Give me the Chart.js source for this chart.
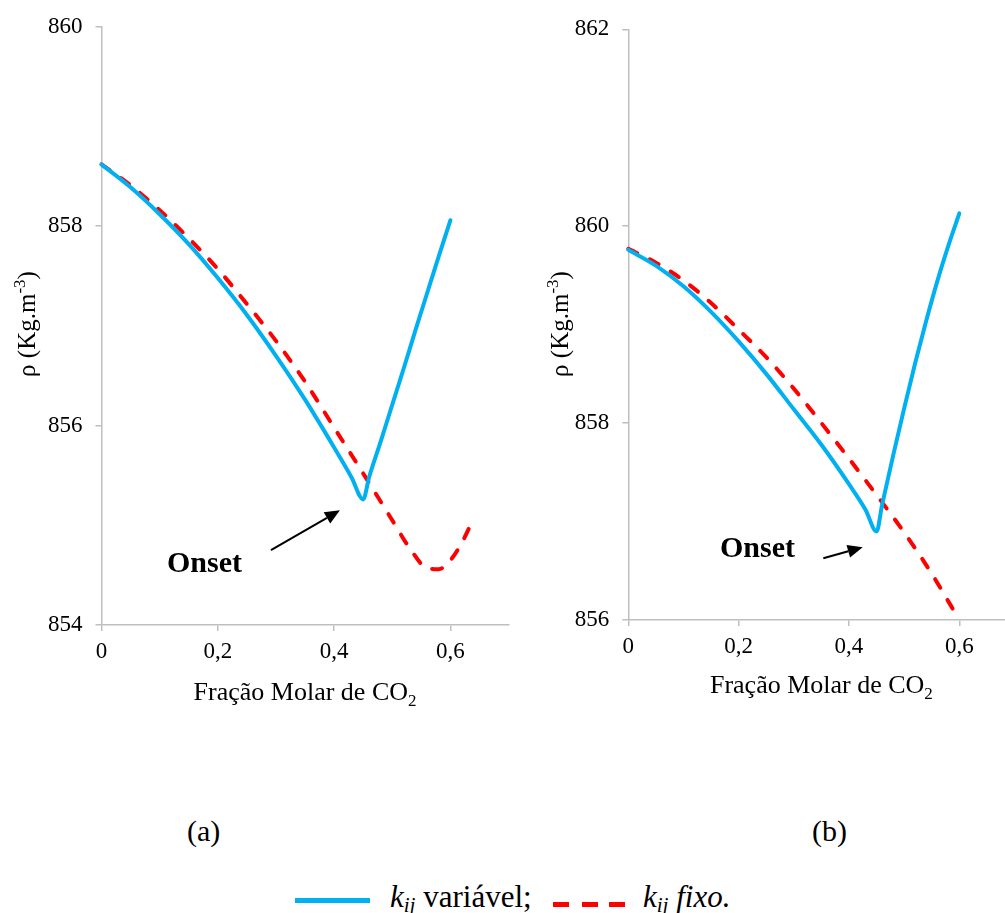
<!DOCTYPE html>
<html>
<head>
<meta charset="utf-8">
<script src="https://cdn.jsdelivr.net/npm/chart.js@4/dist/chart.umd.min.js"></script>
<style>
  html, body { margin: 0; padding: 0; background: #fff; overflow: hidden; width: 1005px; height: 913px; }
  body { position: relative; font-family: "Liberation Serif", "Times New Roman", serif; color: #000; }
  canvas { position: absolute; }
  #ca { left: 0; top: 0; }
  #cb { left: 530px; top: 0; }
  .lab { position: absolute; font-size: 30px; line-height: 30px; white-space: nowrap; }
  .leg { position: absolute; font-size: 31px; line-height: 31px; white-space: nowrap; }
  .sub { font-size: 21px; position: relative; top: 5px; }
</style>
</head>
<body>
<canvas id="ca" width="540" height="720"></canvas>
<canvas id="cb" width="500" height="720"></canvas>

<div class="lab" style="left:187px; top:816px;">(a)</div>
<div class="lab" style="left:812px; top:816px;">(b)</div>

<div style="position:absolute; left:295px; top:898px; width:75px; height:5px; background:#00B0F0;"></div>
<div class="leg" style="left:390px; top:881px;"><i>k</i><i class="sub">ij</i> variável;</div>
<div style="position:absolute; left:553px; top:902px; width:16px; height:5px; background:#FF0000;"></div>
<div style="position:absolute; left:582px; top:902px; width:16px; height:5px; background:#FF0000;"></div>
<div style="position:absolute; left:609px; top:902px; width:16px; height:5px; background:#FF0000;"></div>
<div class="leg" style="left:643px; top:881px;"><i>k</i><i class="sub">ij</i> <i>fixo.</i></div>

<script>
// ---------- DATA ----------
const X_TICKS = [0, 0.2, 0.4, 0.6];
const X_TICK_LABELS = ['0', '0,2', '0,4', '0,6'];
const Y_TICKS_A = [854, 856, 858, 860];
const Y_TICKS_B = [856, 858, 860, 862];

// (a) k_ij variável
const xBlueA = [0, 0.05, 0.1, 0.15, 0.2, 0.25, 0.3, 0.35, 0.4, 0.43, 0.45, 0.46, 0.48, 0.5, 0.52, 0.54, 0.56, 0.58, 0.6];
const yBlueA = [858.62, 858.39, 858.12, 857.82, 857.48, 857.11, 856.70, 856.26, 855.78, 855.48, 855.26, 855.48, 855.84, 856.21, 856.58, 856.96, 857.33, 857.70, 858.06];
// (a) k_ij fixo
const xRedA = [0, 0.05, 0.1, 0.15, 0.2, 0.25, 0.3, 0.35, 0.4, 0.45, 0.5, 0.53, 0.56, 0.58, 0.6, 0.62, 0.64];
const yRedA = [858.62, 858.41, 858.16, 857.88, 857.57, 857.22, 856.85, 856.44, 855.98, 855.52, 855.05, 854.77, 854.57, 854.56, 854.65, 854.83, 855.07];

// (b) k_ij variável
const xBlueB = [0, 0.05, 0.1, 0.15, 0.2, 0.25, 0.3, 0.35, 0.4, 0.43, 0.45, 0.46, 0.48, 0.5, 0.52, 0.54, 0.56, 0.58, 0.6];
const yBlueB = [859.76, 859.60, 859.39, 859.13, 858.83, 858.50, 858.14, 857.78, 857.38, 857.12, 856.90, 857.17, 857.67, 858.15, 858.61, 859.04, 859.44, 859.80, 860.13];
// (b) k_ij fixo
const xRedB = [0, 0.05, 0.1, 0.15, 0.2, 0.25, 0.3, 0.35, 0.4, 0.45, 0.5, 0.55, 0.6];
const yRedB = [859.77, 859.63, 859.45, 859.22, 858.95, 858.67, 858.35, 858.00, 857.64, 857.27, 856.89, 856.47, 856.00];

// ---------- helpers ----------
const pts = (xs, ys) => xs.map((x, i) => ({ x: x, y: ys[i] }));
const AXIS = '#bfbfbf';
const FONT = '"Liberation Serif", "Times New Roman", serif';
Chart.defaults.font.family = FONT;

const deco = {
  id: 'deco',
  afterDraw(chart, args, o) {
    const ctx = chart.ctx, ca = chart.chartArea;
    const xs = chart.scales.x, ys = chart.scales.y;
    ctx.save();
    ctx.fillStyle = '#000';
    ctx.textBaseline = 'alphabetic';
    // x title with subscript
    const big = '26px ' + FONT, small = '17px ' + FONT;
    ctx.font = big; const w1 = ctx.measureText('Fração Molar de CO').width;
    ctx.font = small; const w2 = ctx.measureText('2').width;
    let sx = (ca.left + ca.right) / 2 - (w1 + w2) / 2;
    ctx.font = big; ctx.textAlign = 'left';
    ctx.fillText('Fração Molar de CO', sx, o.xTitleY);
    ctx.font = small; ctx.fillText('2', sx + w1, o.xTitleY + 6);
    // y title with superscript (rotated)
    ctx.save();
    ctx.translate(o.yTitleX, o.yTitleCY);
    ctx.rotate(-Math.PI / 2);
    const ybig = '25px ' + FONT;
    ctx.font = ybig; const a1 = ctx.measureText('ρ (Kg.m').width;
    ctx.font = small; const a2 = ctx.measureText('-3').width;
    ctx.font = ybig; const a3 = ctx.measureText(')').width;
    let tx = -(a1 + a2 + a3) / 2;
    ctx.font = ybig; ctx.fillText('ρ (Kg.m', tx, 0);
    ctx.font = small; ctx.fillText('-3', tx + a1, -10);
    ctx.font = ybig; ctx.fillText(')', tx + a1 + a2, 0);
    ctx.restore();
    // Onset annotation
    const on = o.onset;
    ctx.font = 'bold 30px ' + FONT;
    ctx.fillText('Onset', xs.getPixelForValue(on.tx), ys.getPixelForValue(on.ty));
    const x1 = xs.getPixelForValue(on.ax1), y1 = ys.getPixelForValue(on.ay1);
    const x2 = xs.getPixelForValue(on.ax2), y2 = ys.getPixelForValue(on.ay2);
    const ang = Math.atan2(y2 - y1, x2 - x1), L = 15, H = 6.5;
    const bx = x2 - L * Math.cos(ang), by = y2 - L * Math.sin(ang);
    ctx.strokeStyle = '#000'; ctx.lineWidth = 2;
    ctx.beginPath(); ctx.moveTo(x1, y1); ctx.lineTo(bx, by); ctx.stroke();
    ctx.beginPath();
    ctx.moveTo(x2, y2);
    ctx.lineTo(bx + H * Math.sin(ang), by - H * Math.cos(ang));
    ctx.lineTo(bx - H * Math.sin(ang), by + H * Math.cos(ang));
    ctx.closePath(); ctx.fill();
    ctx.restore();
  }
};

function makeChart(id, blue, red, yTicks, lay) {
  return new Chart(document.getElementById(id), {
    type: 'scatter',
    data: {
      datasets: [
        { label: 'kij variável', data: blue, showLine: true, borderColor: '#00B0F0', borderWidth: 4,
          borderJoinStyle: 'round', borderCapStyle: 'round',
          pointRadius: 0, cubicInterpolationMode: 'monotone', fill: false, clip: false },
        { label: 'kij fixo', data: red, showLine: true, borderColor: '#FF0000', borderWidth: 4,
          borderDash: [10, 14], borderCapStyle: 'round', borderJoinStyle: 'round',
          pointRadius: 0, cubicInterpolationMode: 'monotone', fill: false, clip: false }
      ]
    },
    options: {
      responsive: false, animation: false, devicePixelRatio: 1,
      layout: { padding: { top: lay.top, right: lay.right, left: 0, bottom: 0 } },
      plugins: { legend: { display: false }, tooltip: { enabled: false }, deco: lay.deco },
      scales: {
        x: {
          type: 'linear', min: 0, max: 0.7,
          afterBuildTicks: s => { s.ticks = X_TICKS.map(v => ({ value: v })); },
          afterFit: s => { s.height = lay.xh; },
          ticks: { font: { family: FONT, size: 23 }, color: '#000', padding: 7,
                   callback: v => X_TICK_LABELS[X_TICKS.indexOf(v)] },
          grid: { drawOnChartArea: false, drawTicks: true, tickLength: 6, color: AXIS, lineWidth: 1.5 },
          border: { display: true, color: AXIS, width: 1.5 }
        },
        y: {
          type: 'linear', min: yTicks[0], max: yTicks[yTicks.length - 1],
          afterBuildTicks: s => { s.ticks = yTicks.map(v => ({ value: v })); },
          afterFit: s => { s.width = lay.yw; },
          ticks: { font: { family: FONT, size: 23 }, color: '#000', padding: 13,
                   callback: v => String(v) },
          grid: { drawOnChartArea: false, drawTicks: true, tickLength: 6, color: AXIS, lineWidth: 1.5 },
          border: { display: true, color: AXIS, width: 1.5 }
        }
      }
    },
    plugins: [deco]
  });
}

makeChart('ca', pts(xBlueA, yBlueA), pts(xRedA, yRedA), Y_TICKS_A, {
  top: 18, right: 31.4, yw: 101.5, xh: 95,
  deco: { xTitleY: 700, yTitleX: 35, yTitleCY: 324,
          onset: { tx: 0.1126, ty: 854.535, ax1: 0.2914, ay1: 854.75, ax2: 0.410, ay2: 855.15 } }
});
makeChart('cb', pts(xBlueB, yBlueB), pts(xRedB, yRedB), Y_TICKS_B, {
  top: 29.3, right: 15.5, yw: 98.3, xh: 100,
  deco: { xTitleY: 693, yTitleX: 38, yTitleCY: 324,
          onset: { tx: 0.1662, ty: 856.64, ax1: 0.3535, ay1: 856.627, ax2: 0.4249, ay2: 856.74 } }
});
</script>
</body>
</html>
